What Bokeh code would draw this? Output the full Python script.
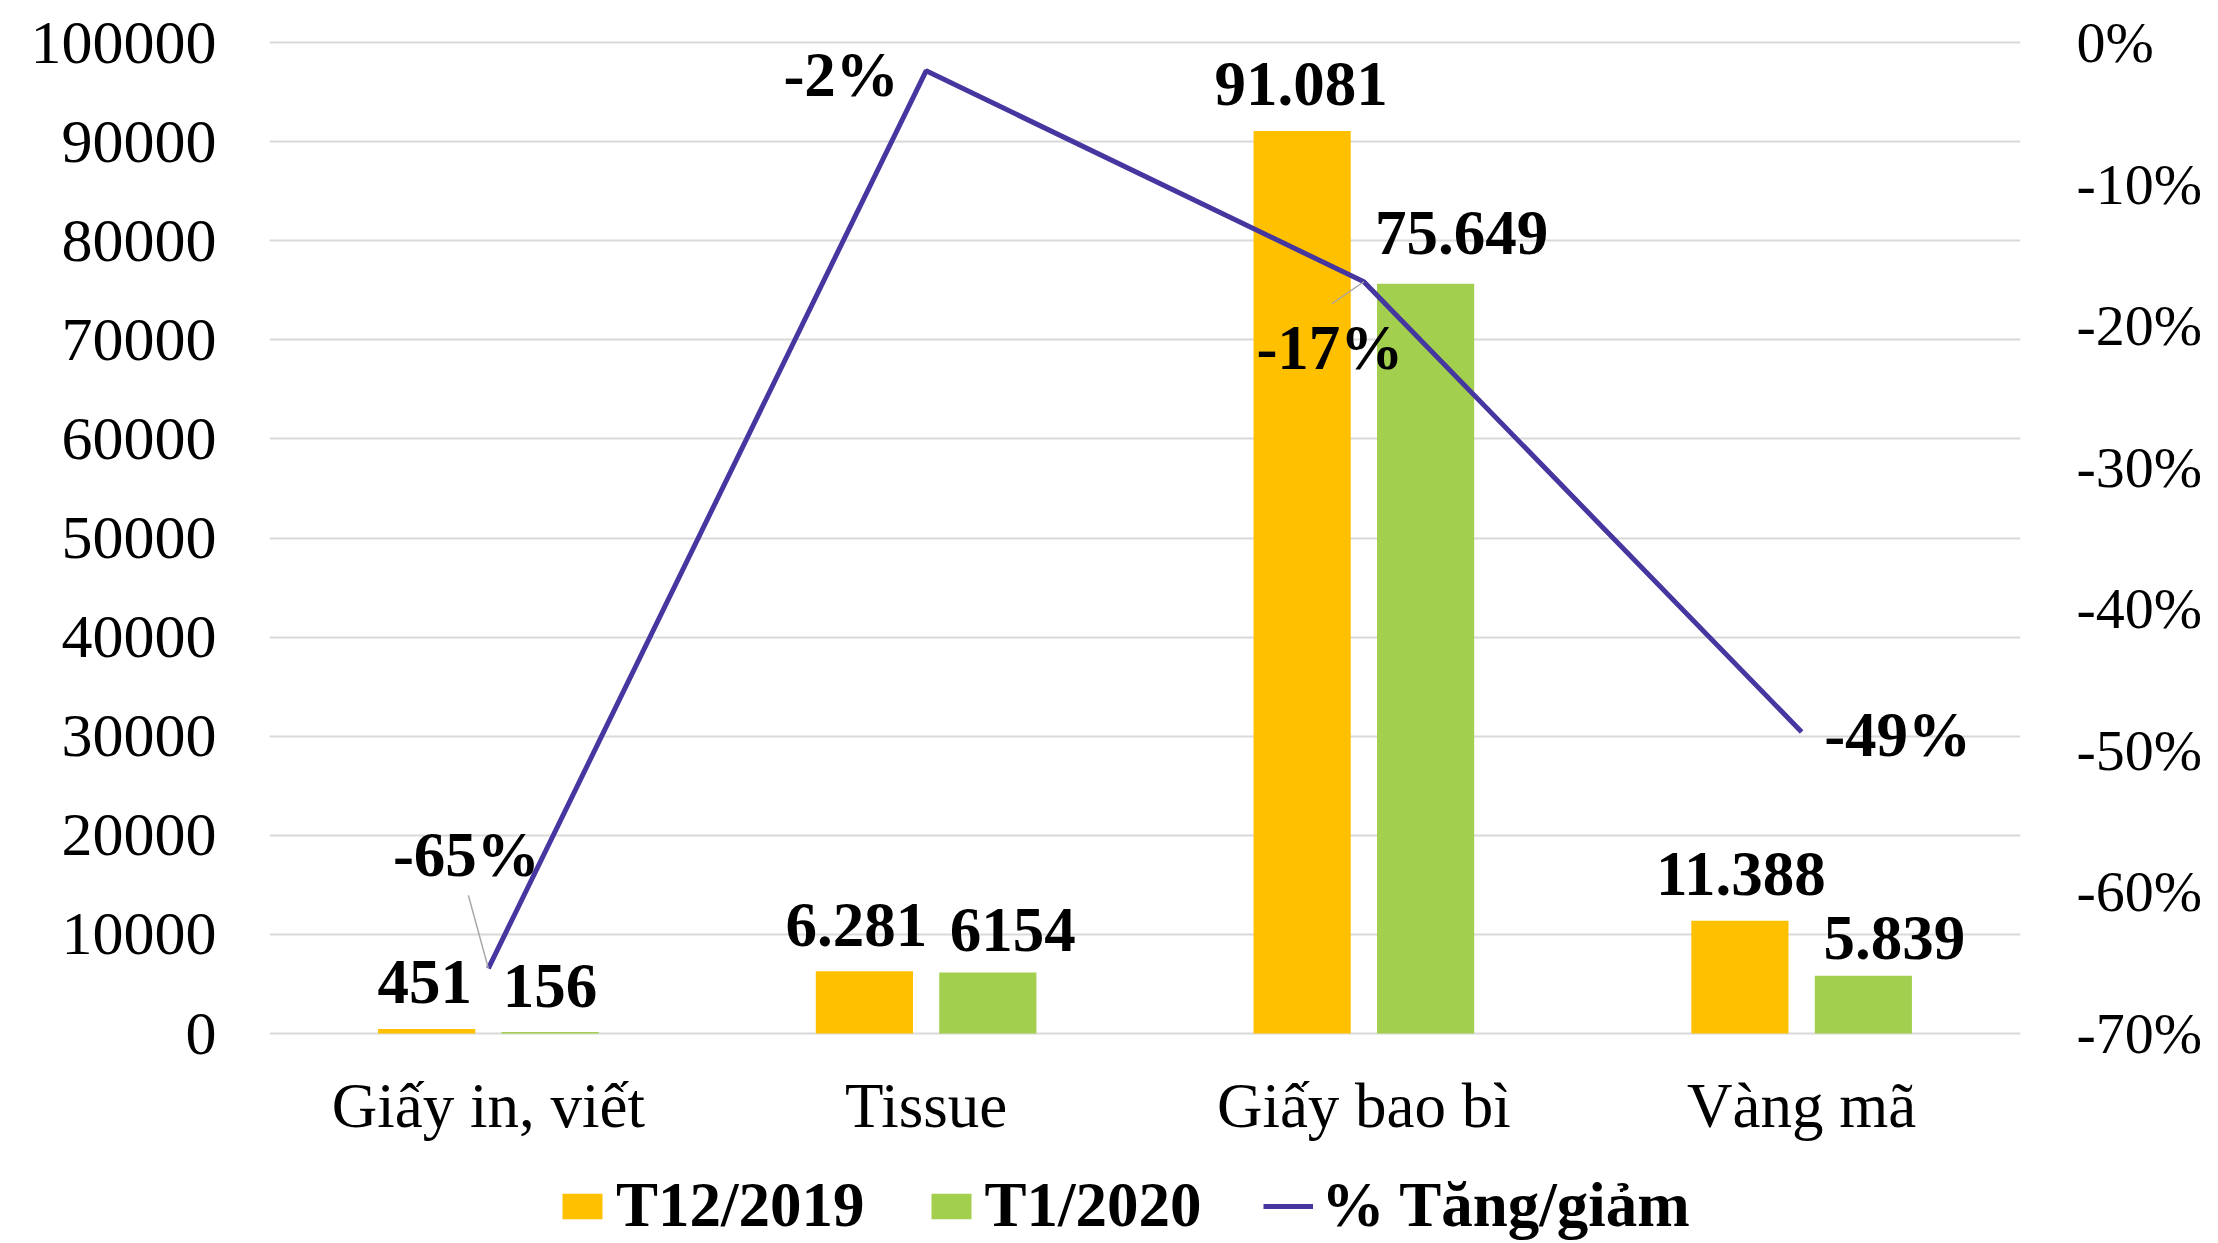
from bokeh.plotting import figure
from bokeh.models import (Range1d, LinearAxis, FixedTicker, NumeralTickFormatter,
                          Legend, LegendItem)
from bokeh.core.properties import value
from bokeh.embed import file_html
from bokeh.resources import INLINE

# ---------------- data ----------------
categories = ["Giấy in, viết", "Tissue", "Giấy bao bì", "Vàng mã"]
t12_2019 = [451, 6281, 91081, 11388]
t1_2020 = [156, 6154, 75649, 5839]
pct_change = [-0.654, -0.020, -0.169, -0.487]
t12_labels = ["451", "6.281", "91.081", "11.388"]
t1_labels = ["156", "6154", "75.649", "5.839"]
pct_labels = ["-65%", "-2%", "-17%", "-49%"]
series_names = ["T12/2019", "T1/2020", "% Tăng/giảm"]
left_ticks = [0, 10000, 20000, 30000, 40000, 50000, 60000, 70000, 80000, 90000, 100000]
right_ticks = [-0.7, -0.6, -0.5, -0.4, -0.3, -0.2, -0.1, 0.0]

# ---------------- style ----------------
FONT = "Liberation Serif"
YELLOW = "#FFC000"
GREEN = "#A2D04E"
LINE = "#4536A0"
GRID = "#D9D9D9"

FIG_W, FIG_H = 2218, 1243
LEFT, RIGHT, TOP = 269, 198, 42   # borders around the value area
INNER_W, INNER_H = 1751, 991      # pixel span of the value axes
PAD = 3                           # px above the top gridline so it shows
BELOW = FIG_H - TOP - INNER_H     # room below zero for category labels + legend

X_MIN, X_MAX = 0, len(categories)
Y_MIN, Y_MAX = 0, 100000
PCT_MIN, PCT_MAX = -0.7, 0.0
px_per_x = INNER_W / (X_MAX - X_MIN)
px_per_y = INNER_H / (Y_MAX - Y_MIN)
px_per_pct = INNER_H / (PCT_MAX - PCT_MIN)

cat_x = [i + 0.5 for i in range(len(categories))]
dodge = 0.141
bar_w = 0.222
x_t12 = [c - dodge for c in cat_x]
x_t1 = [c + dodge for c in cat_x]

p = figure(frame_width=INNER_W, frame_height=INNER_H + PAD + BELOW,
           x_range=Range1d(X_MIN, X_MAX),
           y_range=Range1d(Y_MIN - BELOW / px_per_y, Y_MAX + PAD / px_per_y),
           output_backend="svg", toolbar_location=None,
           min_border_left=LEFT, min_border_right=RIGHT,
           min_border_top=TOP - PAD, min_border_bottom=0)
p.outline_line_color = None
p.background_fill_color = "white"
p.border_fill_color = "white"
p.extra_y_ranges = {"pct": Range1d(PCT_MIN - BELOW / px_per_pct,
                                   PCT_MAX + PAD / px_per_pct)}

# axes
p.xaxis.ticker = FixedTicker(ticks=cat_x)
p.xaxis.major_label_overrides = {c: n for c, n in zip(cat_x, categories)}
p.xaxis.fixed_location = 0
p.yaxis.ticker = FixedTicker(ticks=left_ticks)
p.yaxis.formatter = NumeralTickFormatter(format="0")
for ax in (p.xaxis[0], p.yaxis[0]):
    ax.axis_line_color = None
    ax.major_tick_line_color = None
    ax.minor_tick_line_color = None
    ax.major_tick_out = 0
    ax.major_tick_in = 0
    ax.minor_tick_out = 0
    ax.major_label_text_font = FONT
    ax.major_label_text_color = "black"
p.xaxis.major_label_text_font_size = "63px"
p.xaxis.major_label_standoff = 37
p.yaxis.major_label_text_font_size = "62px"
p.yaxis.major_label_standoff = 53

right = LinearAxis(y_range_name="pct", ticker=FixedTicker(ticks=right_ticks),
                   formatter=NumeralTickFormatter(format="0%"))
right.axis_line_color = None
right.major_tick_line_color = None
right.minor_tick_line_color = None
right.major_tick_out = 0
right.major_tick_in = 0
right.minor_tick_out = 0
right.major_label_text_font = FONT
right.major_label_text_font_size = "58px"
right.major_label_text_color = "black"
right.major_label_standoff = 56
p.add_layout(right, "right")

p.xgrid.grid_line_color = None
p.ygrid.ticker = FixedTicker(ticks=left_ticks)
p.ygrid.grid_line_color = GRID
p.ygrid.grid_line_width = 2

# bars
r1 = p.vbar(x=x_t12, top=t12_2019, width=bar_w, fill_color=YELLOW, line_color=None)
r2 = p.vbar(x=x_t1, top=t1_2020, width=bar_w, fill_color=GREEN, line_color=None)

# line
r3 = p.line(x=cat_x, y=pct_change, line_color=LINE, line_width=5, y_range_name="pct")

# leader lines (from label towards point), pixel offsets converted to data units
lead_idx = [0, 2]
lead_dx = [-20, -32]
lead_dy = [73, -22]  # pixels, positive = up
x0s = [cat_x[i] + dx / px_per_x for i, dx in zip(lead_idx, lead_dx)]
y0s = [pct_change[i] + dy / px_per_pct for i, dy in zip(lead_idx, lead_dy)]
x1s = [cat_x[i] for i in lead_idx]
y1s = [pct_change[i] for i in lead_idx]
p.segment(x0=x0s, y0=y0s, x1=x1s, y1=y1s, line_color="#A6A6A6", line_width=1.5,
          y_range_name="pct")

# value labels
lbl_kw = dict(text_font=value(FONT), text_font_style="bold", text_font_size="63px",
              text_align="center", text_baseline="middle", text_color="black")
p.text(x=x_t12, y=t12_2019, text=t12_labels,
       x_offset=[-2, -8, -1, 1], y_offset=[-47, -46, -47, -47], **lbl_kw)
p.text(x=x_t1, y=t1_2020, text=t1_labels,
       x_offset=[0, 25, 36, 31], y_offset=[-46, -43, -51, -38], **lbl_kw)
p.text(x=cat_x, y=pct_change, text=pct_labels,
       x_offset=[-22, -85, -34, 96], y_offset=[-113, 4, 66, 3],
       y_range_name="pct", **lbl_kw)

# legend (inside the extended frame, under the category labels)
legend = Legend(items=[LegendItem(label=series_names[0], renderers=[r1]),
                       LegendItem(label=series_names[1], renderers=[r2]),
                       LegendItem(label=series_names[2], renderers=[r3])],
                orientation="horizontal", location=(288, 1),
                label_text_font=FONT, label_text_font_style="bold",
                label_text_font_size="63px", label_text_color="black",
                glyph_width=50, glyph_height=32, label_standoff=9, spacing=61,
                padding=0, margin=0, border_line_color=None,
                background_fill_alpha=0)
p.add_layout(legend)

open("out.html", "w").write(file_html(p, INLINE))
